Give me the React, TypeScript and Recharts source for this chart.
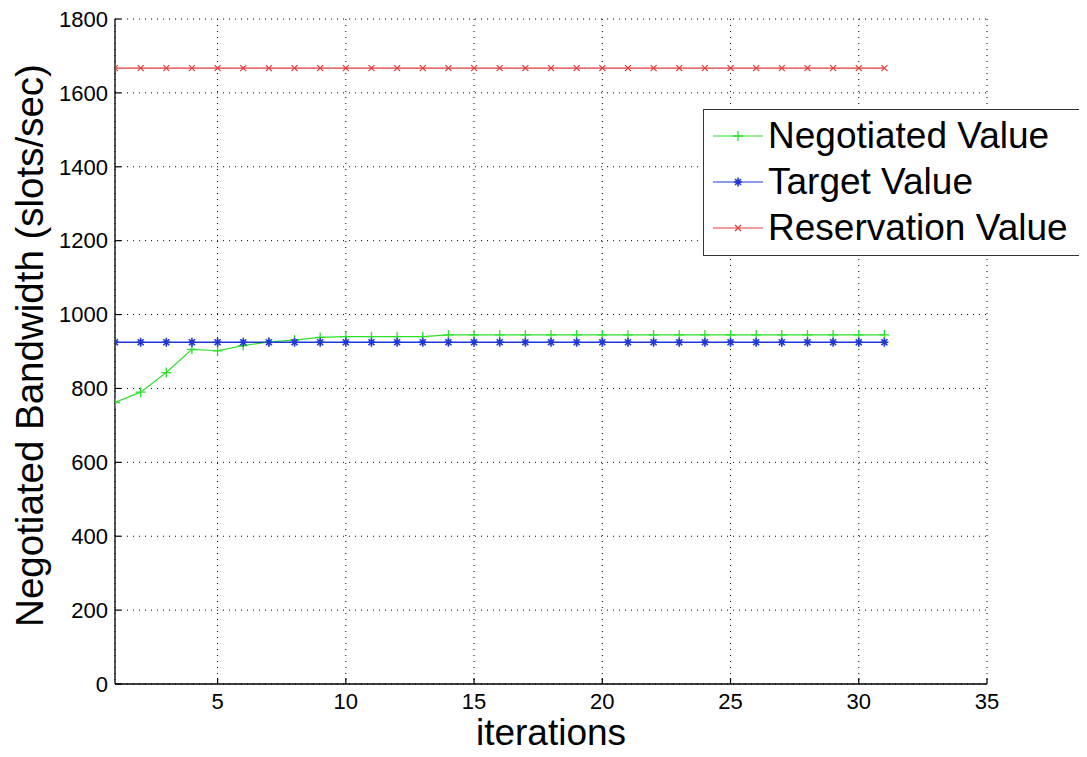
import React from "react";
import {
  LineChart,
  Line,
  XAxis,
  YAxis,
  CartesianGrid,
  Legend,
} from "recharts";

const iterations = [
  1, 2, 3, 4, 5, 6, 7, 8, 9, 10, 11, 12, 13, 14, 15, 16, 17, 18, 19, 20, 21, 22,
  23, 24, 25, 26, 27, 28, 29, 30, 31,
];
const negotiated = [
  762, 790, 843, 906, 902, 916, 926, 931, 938, 940, 940, 940, 940, 945, 945, 945,
  945, 945, 945, 945, 945, 945, 945, 945, 945, 945, 945, 945, 945, 945, 945,
];
const target = [
  925, 925, 925, 925, 925, 925, 925, 925, 925, 925, 925, 925, 925, 925, 925, 925,
  925, 925, 925, 925, 925, 925, 925, 925, 925, 925, 925, 925, 925, 925, 925,
];
const reservation = [
  1667, 1667, 1667, 1667, 1667, 1667, 1667, 1667, 1667, 1667, 1667, 1667, 1667,
  1667, 1667, 1667, 1667, 1667, 1667, 1667, 1667, 1667, 1667, 1667, 1667, 1667,
  1667, 1667, 1667, 1667, 1667,
];

const xTicks = [5, 10, 15, 20, 25, 30, 35];
const yTicks = [0, 200, 400, 600, 800, 1000, 1200, 1400, 1600, 1800];

const seriesNames = ["Negotiated Value", "Target Value", "Reservation Value"];

const GREEN = "#2ee02e";
const BLUE = "#1f36d8";
const RED = "#e03a3a";

const data = iterations.map((it, i) => ({
  it,
  neg: negotiated[i],
  tgt: target[i],
  res: reservation[i],
}));

const FONT = "'Liberation Sans', Arial, Helvetica, sans-serif";

const PlusMark = ({ cx, cy, color }: any) => (
  <path
    d={`M${cx - 5},${cy}H${cx + 5}M${cx},${cy - 5}V${cy + 5}`}
    stroke={color}
    strokeWidth={1.3}
    fill="none"
  />
);
const StarMark = ({ cx, cy, color }: any) => (
  <path
    d={`M${cx - 4},${cy}H${cx + 4}M${cx},${cy - 4.5}V${cy + 4.5}M${cx - 3},${cy - 3}L${cx + 3},${cy + 3}M${cx - 3},${cy + 3}L${cx + 3},${cy - 3}`}
    stroke={color}
    strokeWidth={1.6}
    fill="none"
  />
);
const XMark = ({ cx, cy, color }: any) => (
  <path
    d={`M${cx - 3},${cy - 3}L${cx + 3},${cy + 3}M${cx - 3},${cy + 3}L${cx + 3},${cy - 3}`}
    stroke={color}
    strokeWidth={1.2}
    fill="none"
  />
);

const makeDot = (Mark: any, color: string) => (props: any) => {
  const { cx, cy, index } = props;
  if (cx == null || cy == null) return <g key={`d${index}`} />;
  return (
    <g key={`d${index}`}>
      <Mark cx={cx} cy={cy} color={color} />
    </g>
  );
};

const legendItems = [
  { name: seriesNames[0], color: GREEN, Mark: PlusMark },
  { name: seriesNames[1], color: BLUE, Mark: StarMark },
  { name: seriesNames[2], color: RED, Mark: XMark },
];

const LegendBox = () => (
  <div
    style={{
      border: "1px solid #333",
      background: "#fff",
      width: 377,
      boxSizing: "border-box",
      paddingTop: 3,
      paddingBottom: 4,
      fontFamily: FONT,
      fontSize: 37,
      color: "#000",
    }}
  >
    {legendItems.map((it) => (
      <div
        key={it.name}
        style={{
          display: "flex",
          alignItems: "center",
          height: 46,
          lineHeight: "46px",
          whiteSpace: "nowrap",
        }}
      >
        <svg width={64} height={20} style={{ flex: "none" }}>
          <line x1={9} x2={59} y1={10} y2={10} stroke={it.color} strokeWidth={1.2} />
          <it.Mark cx={34} cy={10} color={it.color} />
        </svg>
        <span>{it.name}</span>
      </div>
    ))}
  </div>
);

const YLabel = (props: any) => {
  const vb = props.viewBox || {};
  const cy = vb.y + vb.height / 2 - 6;
  const x = 43;
  return (
    <text
      x={x}
      y={cy}
      transform={`rotate(-90 ${x} ${cy})`}
      textAnchor="middle"
      fontFamily={FONT}
      fontSize={38.5}
      fill="#000"
    >
      Negotiated Bandwidth (slots/sec)
    </text>
  );
};

const XLabel = (props: any) => {
  const vb = props.viewBox || {};
  return (
    <text
      x={vb.x + vb.width / 2}
      y={vb.y + 61}
      textAnchor="middle"
      fontFamily={FONT}
      fontSize={37}
      fill="#000"
    >
      iterations
    </text>
  );
};

export default function App() {
  const tickStyle = { fill: "#000", fontSize: 22, fontFamily: FONT };
  return (
    <div
      style={{
        position: "relative",
        left: -8,
        top: -8,
        width: 1087,
        height: 757,
        background: "#fff",
      }}
    >
      <LineChart
        width={1087}
        height={757}
        data={data}
        margin={{ top: 19, right: 100, bottom: 0, left: 0 }}
      >
        <CartesianGrid
          stroke="#000"
          strokeWidth={1}
          strokeDasharray="1 5"
          vertical={true}
          horizontal={true}
        />
        <XAxis
          dataKey="it"
          type="number"
          domain={[1, 35]}
          ticks={xTicks}
          allowDataOverflow
          height={73}
          tickSize={-6}
          tickMargin={15}
          axisLine={{ stroke: "#000", strokeWidth: 1.3 }}
          tickLine={{ stroke: "#000", strokeWidth: 1.2 }}
          tick={tickStyle}
          label={<XLabel />}
        />
        <XAxis
          xAxisId="top"
          orientation="top"
          dataKey="it"
          type="number"
          domain={[1, 35]}
          ticks={xTicks}
          allowDataOverflow
          height={0}
          tickSize={-6}
          tick={false}
          axisLine={{ stroke: "#000", strokeWidth: 1.3 }}
          tickLine={{ stroke: "#000", strokeWidth: 1.2 }}
        />
        <YAxis
          type="number"
          domain={[0, 1800]}
          ticks={yTicks}
          allowDataOverflow
          width={115}
          tickSize={-6}
          tickMargin={13}
          axisLine={{ stroke: "#000", strokeWidth: 1.3 }}
          tickLine={{ stroke: "#000", strokeWidth: 1.2 }}
          tick={tickStyle}
          label={<YLabel />}
        />
        <YAxis
          yAxisId="right"
          orientation="right"
          type="number"
          domain={[0, 1800]}
          ticks={yTicks}
          allowDataOverflow
          width={0}
          tickSize={-6}
          tick={false}
          axisLine={{ stroke: "#000", strokeWidth: 1.3 }}
          tickLine={{ stroke: "#000", strokeWidth: 1.2 }}
        />
        <Legend
          layout="horizontal"
          align="center"
          verticalAlign="middle"
          wrapperStyle={{ left: 703, top: 109, width: 377, height: 145 }}
          content={() => <LegendBox />}
        />
        <Line
          type="linear"
          dataKey="res"
          name={seriesNames[2]}
          stroke={RED}
          strokeWidth={1.2}
          dot={makeDot(XMark, RED)}
          activeDot={false}
          isAnimationActive={false}
        />
        <Line
          type="linear"
          dataKey="neg"
          name={seriesNames[0]}
          stroke={GREEN}
          strokeWidth={1.2}
          dot={makeDot(PlusMark, GREEN)}
          activeDot={false}
          isAnimationActive={false}
        />
        <Line
          type="linear"
          dataKey="tgt"
          name={seriesNames[1]}
          stroke={BLUE}
          strokeWidth={1.6}
          dot={makeDot(StarMark, BLUE)}
          activeDot={false}
          isAnimationActive={false}
        />
      </LineChart>
    </div>
  );
}
